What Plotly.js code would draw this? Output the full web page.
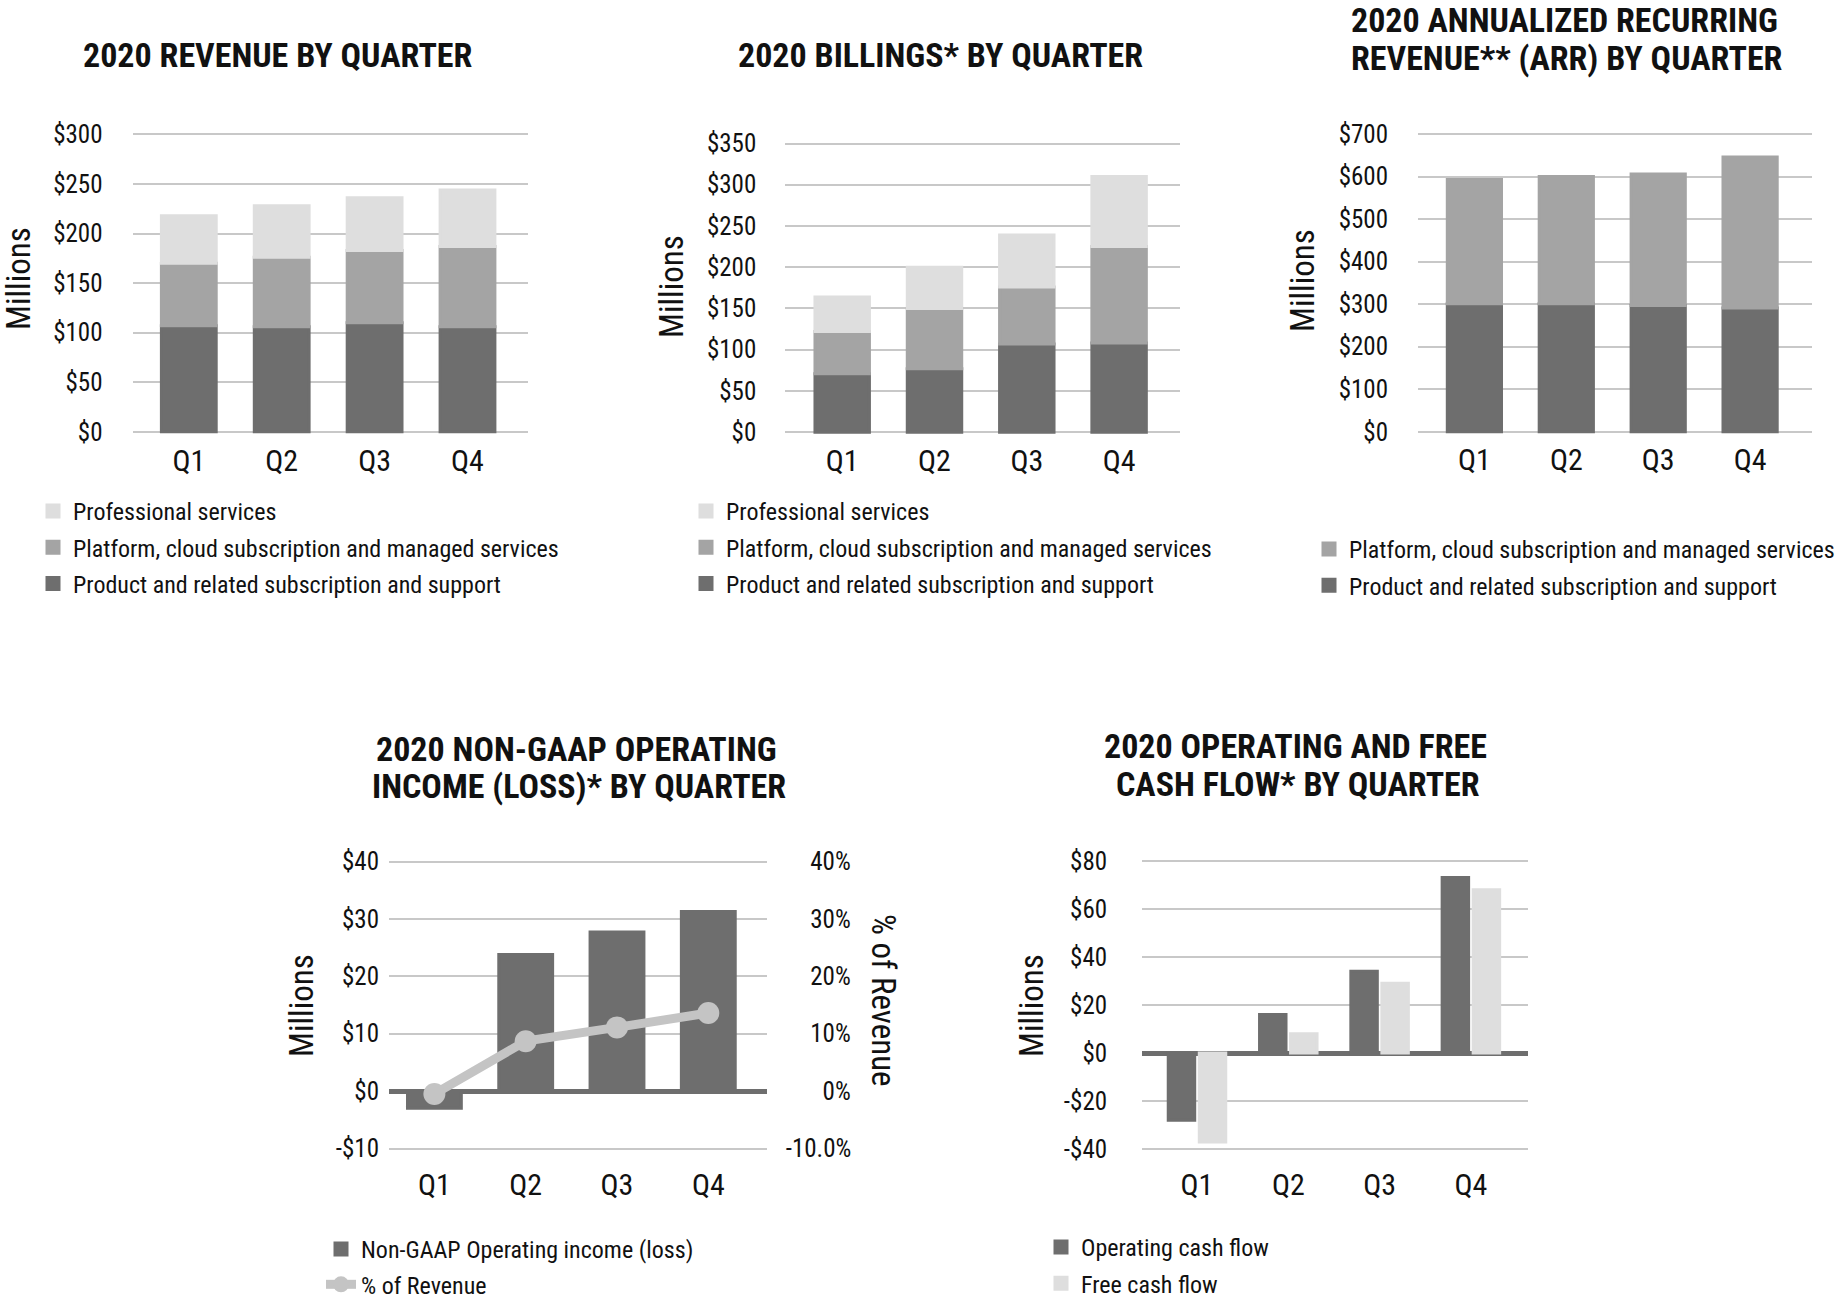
<!DOCTYPE html>
<html><head><meta charset="utf-8">
<script src="https://cdn.plot.ly/plotly-3.0.1.min.js"></script>
<style>html,body{margin:0;padding:0;background:#fff;} #chart{width:1840px;height:1303px;}</style>
</head><body><div id="chart"></div>
<script>
// ---------- DATA ----------
const quarters = ['Q1', 'Q2', 'Q3', 'Q4'];

const revenueProduct = [107, 106, 110, 106];
const revenuePlatform = [63, 70, 73, 81];
const revenueProfessional = [48, 52, 53, 57];

const billingsProduct = [71, 77, 107, 108];
const billingsPlatform = [51, 73, 69, 117];
const billingsProfessional = [42, 50, 63, 85];

const arrProduct = [301, 301, 297, 291];
const arrPlatform = [292, 299, 309, 355];

const nonGaapIncome = [-3, 23.8, 27.7, 31.3];
const nonGaapPctOfRevenue = [-0.5, 8.7, 11.1, 13.6];

const operatingCashFlow = [-28, 16, 34, 73];
const freeCashFlow = [-37, 8, 29, 68];

const revenueTickVals = [0, 50, 100, 150, 200, 250, 300];
const revenueTickText = ['$0', '$50', '$100', '$150', '$200', '$250', '$300'];
const billingsTickVals = [0, 50, 100, 150, 200, 250, 300, 350];
const billingsTickText = ['$0', '$50', '$100', '$150', '$200', '$250', '$300', '$350'];
const arrTickVals = [0, 100, 200, 300, 400, 500, 600, 700];
const arrTickText = ['$0', '$100', '$200', '$300', '$400', '$500', '$600', '$700'];
const incomeTickVals = [-10, 0, 10, 20, 30, 40];
const incomeTickText = ['-$10', '$0', '$10', '$20', '$30', '$40'];
const pctTickVals = [-10, 0, 10, 20, 30, 40];
const pctTickText = ['-10.0%', '0%', '10%', '20%', '30%', '40%'];
const cashTickVals = [-40, -20, 0, 20, 40, 60, 80];
const cashTickText = ['-$40', '-$20', '$0', '$20', '$40', '$60', '$80'];

const nameProfessional = 'Professional services';
const namePlatform = 'Platform, cloud subscription and managed services';
const nameProduct = 'Product and related subscription and support';

// ---------- STYLE ----------
const W = 1840, H = 1303;
const F = "'Roboto Condensed', 'Roboto', sans-serif";
const C_DARK = '#6e6e6e', C_MID = '#a4a4a4', C_LIGHT = '#dedede', C_LINE = '#c4c4c4';
const GRID = '#c8c8c8';
const TXT = '#111111';
const FS = '\u2007'; // figure space, used to right-align the right-hand tick labels
const pctPad = [0, 3, 2, 2, 2, 2];
const pctTickTextAligned = pctTickText.map((t, i) => FS.repeat(pctPad[i]) + t);

function xDom(l, r) { return [l / W, r / W]; }
function yFit(top, bottom, vmin, vmax, pad) {
  const ppu = (bottom - top) / (vmax - vmin);
  return { domain: [1 - (bottom + pad) / H, 1 - (top - pad) / H], range: [vmin - pad / ppu, vmax + pad / ppu] };
}
function xRange(l, r, c0, sp) { return [(l - c0) / sp, (r - c0) / sp]; }

function yAxis(fit, vals, text, extra) {
  return Object.assign({
    domain: fit.domain, range: fit.range, fixedrange: true,
    showgrid: true, gridcolor: GRID, gridwidth: 2,
    zeroline: true, zerolinecolor: GRID, zerolinewidth: 2,
    showline: false, ticks: '', tickmode: 'array', tickvals: vals, ticktext: text,
    tickfont: { family: F, size: 25, color: TXT }
  }, extra || {});
}
function xAxis(dom, rng, extra) {
  return Object.assign({
    domain: dom, range: rng, type: 'category', fixedrange: true,
    showgrid: false, zeroline: false, showline: false, ticks: '',
    tickfont: { family: F, size: 30, color: TXT }
  }, extra || {});
}

const LW = 3;
function bar(x, y, name, color, xa, ya, legend, rank, width, extra) {
  return Object.assign({
    type: 'bar', x: x, y: y, name: name, xaxis: xa, yaxis: ya, legend: legend,
    legendgroup: legend + name, legendrank: rank,
    width: width, marker: { color: color, line: { color: color, width: LW } },
    hoverinfo: 'skip'
  }, extra || {});
}

const traces = [
  // Chart 1
  bar(quarters, revenueProduct, nameProduct, C_DARK, 'x', 'y', 'legend', 3, 0.59),
  bar(quarters, revenuePlatform, namePlatform, C_MID, 'x', 'y', 'legend', 2, 0.59),
  bar(quarters, revenueProfessional, nameProfessional, C_LIGHT, 'x', 'y', 'legend', 1, 0.59),
  // Chart 2
  bar(quarters, billingsProduct, nameProduct, C_DARK, 'x2', 'y2', 'legend2', 3, 0.59),
  bar(quarters, billingsPlatform, namePlatform, C_MID, 'x2', 'y2', 'legend2', 2, 0.59),
  bar(quarters, billingsProfessional, nameProfessional, C_LIGHT, 'x2', 'y2', 'legend2', 1, 0.59),
  // Chart 3
  bar(quarters, arrProduct, nameProduct, C_DARK, 'x3', 'y3', 'legend3', 2, 0.59),
  bar(quarters, arrPlatform, namePlatform, C_MID, 'x3', 'y3', 'legend3', 1, 0.59),
  // Chart 4
  bar(quarters, nonGaapIncome, 'Non-GAAP Operating income (loss)', C_DARK, 'x4', 'y4', 'legend4', 1, 0.59),
  { type: 'scatter', mode: 'lines+markers', x: quarters, y: nonGaapPctOfRevenue, name: '% of Revenue',
    xaxis: 'x4', yaxis: 'y5', legend: 'legend4', legendgroup: 'pct', legendrank: 2, hoverinfo: 'skip', cliponaxis: false,
    line: { color: C_LINE, width: 9 }, marker: { color: C_LINE, size: 22 } },
  // Chart 5
  bar(quarters, operatingCashFlow, 'Operating cash flow', C_DARK, 'x5', 'y6', 'legend5', 1, 0.29, { offset: -0.315 }),
  bar(quarters, freeCashFlow, 'Free cash flow', C_LIGHT, 'x6', 'y6', 'legend5', 2, 0.29, { offset: 0.025 })
];

const fit1 = yFit(134.4, 431.8, 0, 300, 3);
const fit2 = yFit(143.5, 432.2, 0, 350, 3);
const fit3 = yFit(134, 431.8, 0, 700, 3);
const fit4 = yFit(861.5, 1148.5, -10, 40, 3);
const fit5 = yFit(860.8, 1149.2, -40, 80, 3);

function legendAt(xpx, ypx, gap) {
  return {
    x: xpx / W, y: 1 - ypx / H, xanchor: 'left', yanchor: 'top',
    bgcolor: 'rgba(0,0,0,0)', borderwidth: 0, traceorder: 'grouped',
    font: { family: F, size: 24, color: TXT }, itemclick: false, itemdoubleclick: false,
    tracegroupgap: gap
  };
}

function ann(text, xpx, ypx, size, opts) {
  return Object.assign({
    text: text, x: xpx / W, y: 1 - ypx / H, xref: 'paper', yref: 'paper',
    xanchor: 'center', yanchor: 'middle', showarrow: false,
    font: { family: F, size: size, color: TXT }
  }, opts || {});
}
const TB = { family: F, size: 34, color: TXT, weight: 'bold' };

const layout = {
  width: W, height: H, margin: { l: 0, r: 0, t: 0, b: 0, autoexpand: false },
  paper_bgcolor: '#ffffff', plot_bgcolor: 'rgba(0,0,0,0)',
  barmode: 'relative', showlegend: true, hovermode: false,
  xaxis: xAxis(xDom(132.5, 527.9), xRange(132.5, 527.9, 188.8, 92.9), { anchor: 'y', ticklabelstandoff: 5 }),
  yaxis: yAxis(fit1, revenueTickVals, revenueTickText, { anchor: 'x', ticklabelstandoff: 29 }),
  xaxis2: xAxis(xDom(785.3, 1179.5), xRange(785.3, 1179.5, 842.2, 92.3), { anchor: 'y2', ticklabelstandoff: 5 }),
  yaxis2: yAxis(fit2, billingsTickVals, billingsTickText, { anchor: 'x2', ticklabelstandoff: 28 }),
  xaxis3: xAxis(xDom(1418, 1812.1), xRange(1418, 1812.1, 1474.4, 91.9), { anchor: 'y3', ticklabelstandoff: 4 }),
  yaxis3: yAxis(fit3, arrTickVals, arrTickText, { anchor: 'x3', ticklabelstandoff: 29 }),
  xaxis4: xAxis(xDom(389, 766.7), xRange(389, 766.7, 434.4, 91.3), { anchor: 'y4', ticklabelstandoff: 12 }),
  yaxis4: yAxis(fit4, incomeTickVals, incomeTickText, { anchor: 'x4', ticklabelstandoff: 9, zerolinecolor: C_DARK, zerolinewidth: 5 }),
  yaxis5: yAxis(fit4, pctTickVals, pctTickTextAligned, { anchor: 'x4', overlaying: 'y4', side: 'right', showgrid: false, zeroline: false, ticklabelstandoff: 18 }),
  xaxis5: xAxis(xDom(1142.1, 1527.6), xRange(1142.1, 1527.6, 1197, 91.3), { anchor: 'y6', ticklabelstandoff: 12 }),
  xaxis6: xAxis(xDom(1142.1, 1527.6), xRange(1142.1, 1527.6, 1197, 91.3), { anchor: 'y6', overlaying: 'x5', showticklabels: false }),
  yaxis6: yAxis(fit5, cashTickVals, cashTickText, { anchor: 'x5', ticklabelstandoff: 34, zerolinecolor: C_DARK, zerolinewidth: 5 }),
  legend: legendAt(33, 489, 2),
  legend2: legendAt(686, 489, 2),
  legend3: legendAt(1309, 527, 2),
  legend4: legendAt(321, 1227, 1),
  legend5: legendAt(1041, 1225, 2),
  annotations: [
    ann('2020 REVENUE BY QUARTER', 278, 55, 34, { font: TB }),
    ann('2020 BILLINGS* BY QUARTER', 940, 55, 34, { font: TB }),
    ann('2020 ANNUALIZED RECURRING', 1349, 20, 34, { font: TB, xanchor: 'left' }),
    ann('REVENUE** (ARR) BY QUARTER', 1349, 57.5, 34, { font: TB, xanchor: 'left' }),
    ann('2020 NON-GAAP OPERATING', 576, 749, 34, { font: TB }),
    ann('INCOME (LOSS)* BY QUARTER', 579, 786, 34, { font: TB }),
    ann('2020 OPERATING AND FREE', 1295, 746, 34, { font: TB }),
    ann('CASH FLOW* BY QUARTER', 1298, 784, 34, { font: TB }),
    ann('Millions', 18, 279, 33, { textangle: -90 }),
    ann('Millions', 671, 287, 33, { textangle: -90 }),
    ann('Millions', 1303, 281, 33, { textangle: -90 }),
    ann('Millions', 301, 1006, 33, { textangle: -90 }),
    ann('Millions', 1031, 1006, 33, { textangle: -90 }),
    ann('% of Revenue', 884, 1000, 33, { textangle: 90 })
  ]
};

Plotly.newPlot('chart', traces, layout, { staticPlot: true, displayModeBar: false });
</script>
</body></html>
